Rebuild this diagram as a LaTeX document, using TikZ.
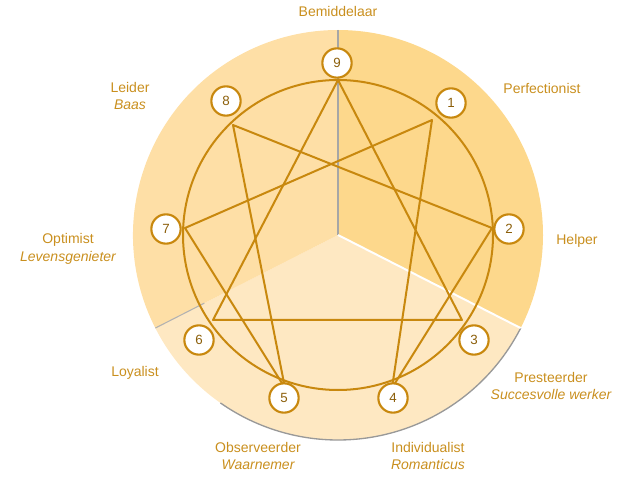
\documentclass[tikz,border=0pt]{standalone}
\usepackage{fontspec}
\setmainfont{Liberation Sans}
\definecolor{gold}{HTML}{C8880E}
\definecolor{txt}{HTML}{C98F1E}
\definecolor{secA}{HTML}{FDD88C}
\definecolor{secB}{HTML}{FEDFA6}
\definecolor{secC}{HTML}{FEE8C2}
\begin{document}
\begin{tikzpicture}[x=0.75pt,y=-0.75pt,
  num/.style={circle,draw=gold,line width=1.6pt,fill=white,minimum size=22pt,inner sep=0pt,font=\fontsize{10}{12}\selectfont,text=gold!70!black},
  lbl/.style={text=txt,font=\fontsize{10.5}{13}\selectfont,align=center},
  star/.style={draw=gold,line width=1.5pt,line join=round}]
\useasboundingbox (0,0) rectangle (639,488);
\coordinate (c) at (338,235);
\fill[secC] (c) -- +(27:205) arc[start angle=27,end angle=153,radius=205] -- cycle;
\fill[secB] (c) -- +(153:205) arc[start angle=153,end angle=270,radius=205] -- cycle;
\fill[secA] (c) -- +(-90:205) arc[start angle=-90,end angle=27,radius=205] -- cycle;
\draw[gray!80,line width=1pt] (c) ++(27:205) arc[start angle=27,end angle=125,radius=205];
\draw[gray!70,line width=1pt] (c) -- +(-90:205);
\draw[white,line width=1.5pt] (c) -- +(27:205);
\draw[gray!60,line width=0.8pt] (c) ++(153:150) -- +(153:55);
\draw[gold,line width=1.5pt] (c) circle[radius=155];
\coordinate (p9) at (338,80);
\coordinate (p1) at (432,120);
\coordinate (p2) at (492,228);
\coordinate (p3) at (462,320);
\coordinate (p4) at (392,388);
\coordinate (p5) at (285,388);
\coordinate (p6) at (213,320);
\coordinate (p7) at (185,228);
\coordinate (p8) at (233,125);
\draw[star] (p9) -- (p3) -- (p6) -- cycle;
\draw[star] (p1) -- (p4) -- (p2) -- (p8) -- (p5) -- (p7) -- cycle;
\node[num] (n9) at (337,63) {9};
\node[num] (n1) at (451,103) {1};
\node[num] (n2) at (509,229) {2};
\node[num] (n3) at (474,340) {3};
\node[num] (n4) at (393,398) {4};
\node[num] (n5) at (284,398) {5};
\node[num] (n6) at (199,340) {6};
\node[num] (n7) at (166,229) {7};
\node[num] (n8) at (226,101) {8};
\node[lbl] (l9) at (338,12) {Bemiddelaar};
\node[lbl] (l1) at (542,88) {Perfectionist};
\node[lbl] (l8) at (130,96) {Leider\\\itshape Baas};
\node[lbl] (l2) at (577,241) {Helper};
\node[lbl] (l7) at (68,249) {Optimist\\\itshape Levensgenieter};
\node[lbl] (l6) at (135,373) {Loyalist};
\node[lbl] (l3) at (551,386) {Presteerder\\\itshape Succesvolle werker};
\node[lbl] (l5) at (258,456) {Observeerder\\\itshape Waarnemer};
\node[lbl] (l4) at (428,456) {Individualist\\\itshape Romanticus};
\end{tikzpicture}
\end{document}
